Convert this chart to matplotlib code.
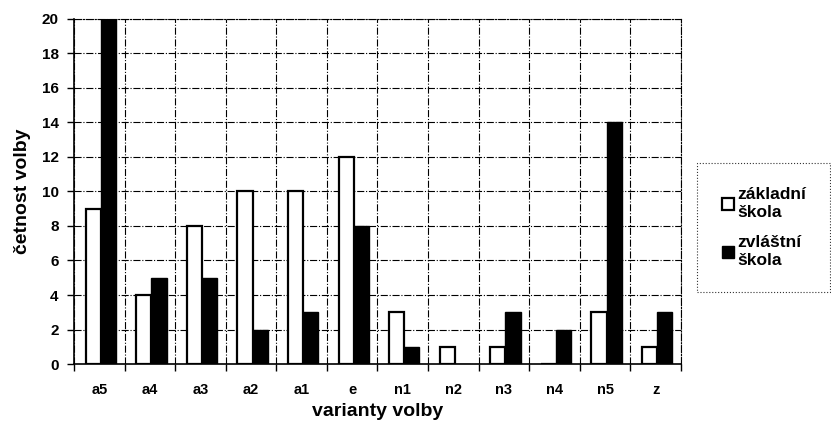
import numpy as np
import matplotlib.pyplot as plt

plt.rcParams['font.family'] = ['Liberation Sans', 'DejaVu Sans']

categories = ['a5', 'a4', 'a3', 'a2', 'a1', 'e', 'n1', 'n2', 'n3', 'n4', 'n5', 'z']
zakladni = [9, 4, 8, 10, 10, 12, 3, 1, 1, 0, 3, 1]
zvlastni = [20, 5, 5, 2, 3, 8, 1, 0, 3, 2, 14, 3]

fig = plt.figure(figsize=(8.31, 4.26), dpi=100)
ax = fig.add_axes([0.089, 0.1455, 0.7305, 0.81])

x = np.arange(len(categories))
w = 0.3
ax.bar(x - w / 2 + 0.03, zakladni, w, color='white', edgecolor='black', linewidth=1.6, zorder=3,
       label='základní\nškola')
ax.bar(x + w / 2 + 0.03, zvlastni, w, color='black', edgecolor='black', linewidth=1.0, zorder=3,
       label='zvláštní\nškola')

ax.set_xlim(-0.5, len(categories) - 0.5)
ax.set_ylim(0, 20)
ax.set_yticks(np.arange(0, 21, 2))
ax.set_xticks(x)
ax.set_xticklabels(categories, fontsize=10.5, fontweight='bold')
ax.set_xticks(np.arange(-0.5, len(categories), 1), minor=True)
ax.tick_params(axis='x', which='major', length=0, pad=14)
ax.tick_params(axis='x', which='minor', length=5, width=1)
ax.tick_params(axis='y', length=5, width=1, labelsize=11, pad=6)
for t in ax.get_yticklabels():
    t.set_fontweight('bold')

ax.grid(True, axis='y', which='major', color='black', linestyle='-.', linewidth=0.8, zorder=0)
ax.grid(True, axis='x', which='minor', color='black', linestyle='-.', linewidth=0.8, zorder=0)
for s in ['top', 'right']:
    ax.spines[s].set_linestyle('-.')
    ax.spines[s].set_linewidth(0.8)
ax.spines['left'].set_linewidth(1.2)
ax.spines['bottom'].set_linewidth(1.2)

ax.set_xlabel('varianty volby', fontsize=14, fontweight='bold', labelpad=4)
ax.set_ylabel('četnost volby', fontsize=14, fontweight='bold', labelpad=8)

leg = fig.legend(loc='upper left', bbox_to_anchor=(0.839, 0.617), fontsize=12.5,
                 frameon=True, fancybox=False, handlelength=0.7, handleheight=0.7,
                 handletextpad=0.2, labelspacing=0.9, borderpad=1.4, borderaxespad=0)
frame = leg.get_frame()
frame.set_edgecolor('black')
frame.set_linestyle(':')
frame.set_linewidth(0.8)
for t in leg.get_texts():
    t.set_fontweight('bold')

fig.savefig('out.png', dpi=100)
